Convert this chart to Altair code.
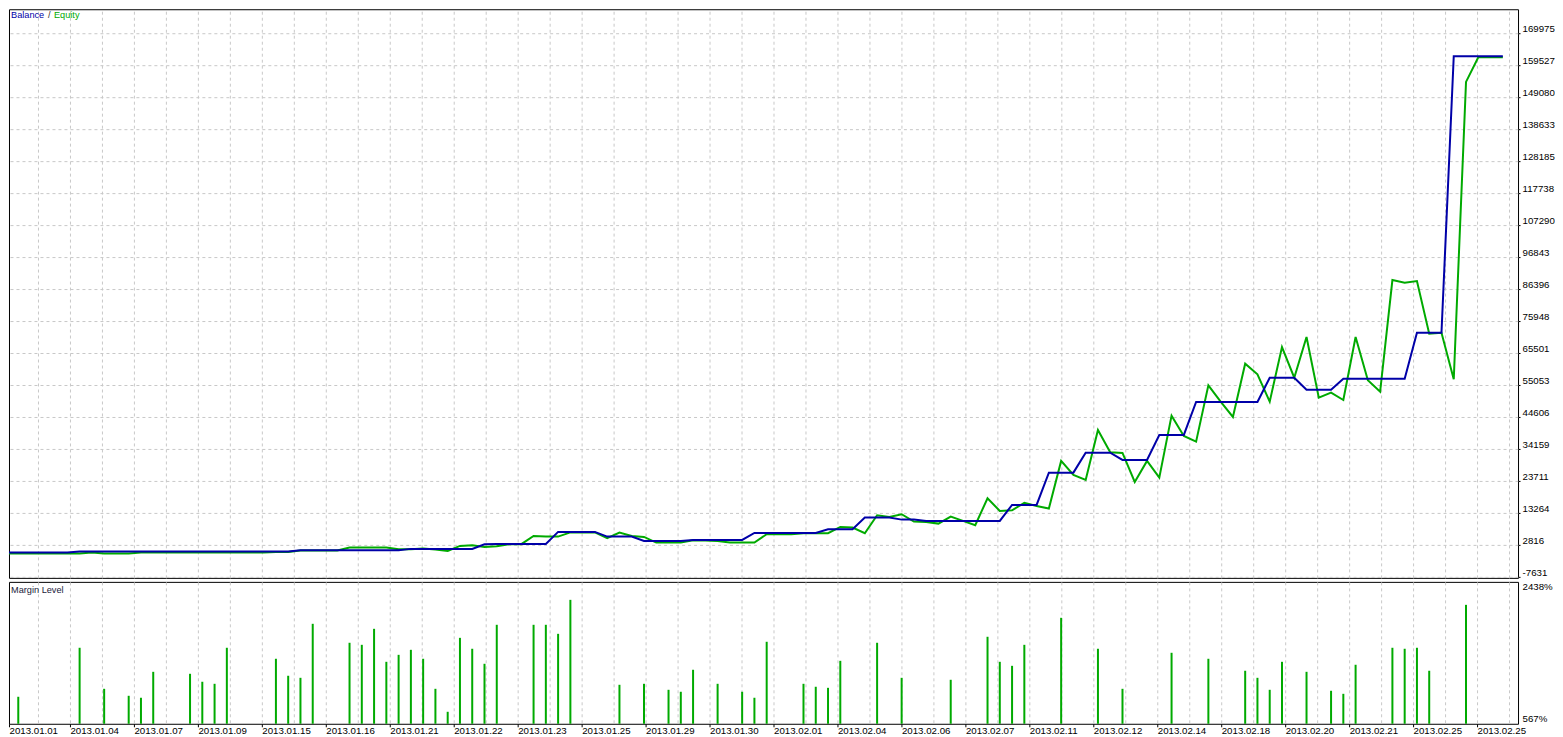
import json
import altair as alt
import pandas as pd

# ---------------- data ----------------
deal = list(range(123))

balance = (
    [400] * 6 + [730] * 18 + [1180] * 9 + [1610] * 6 + [3140] + [3240] * 5 +
    [7160] * 4 + [5620] * 3 + [4220] * 4 + [4550] * 5 + [6830] * 6 + [8040] * 3 +
    [11830] * 3 + [11170] * 2 + [10750] * 7 + [15970] * 3 + [26520] * 3 +
    [33050] * 3 + [30670] * 3 + [38830] * 3 + [49600] * 6 + [57530] * 3 +
    [53620] * 3 + [57210] * 6 + [72230] * 3 + [162560] * 5
)

equity = (
    [80] * 7 + [400] + [80] * 3 + [400] * 11 + [630] * 2 + [1050] * 4 +
    [2030] * 4 + [1510] * 2 +
    [1710, 1380, 960, 2590, 2820, 2260, 2490, 3140, 3140, 5850, 5690, 5620,
     7000, 7000, 7000, 5100, 6930, 5850, 5530, 3670, 3670, 3670, 4450, 4380,
     4220, 3670, 3670, 3670, 6410, 6410, 6410, 6730, 6730, 6730, 8790, 8560,
     6730, 12610, 12060, 12940, 10520, 10420, 9870, 12150, 10750, 9350, 18160,
     14010, 14230, 16630, 15650, 14770, 30340, 25770, 24140, 40460, 33180,
     32950, 23480, 30340, 24890, 45130, 38500, 36640, 55050, 49700, 44700,
     62110, 58640, 49700, 67560, 57530, 70820, 51000, 52640, 50250, 70820,
     56690, 52960, 89430, 88550, 89110, 71900, 72230, 57010, 154170,
     162240, 162240, 162240]
)

margin_deal = [1, 6, 8, 10, 11, 12, 15, 16, 17, 18, 22, 23, 24, 25, 28, 29, 30,
               31, 32, 33, 34, 35, 36, 37, 38, 39, 40, 43, 44, 45, 46, 50, 52,
               54, 55, 56, 58, 60, 61, 62, 65, 66, 67, 68, 71, 73, 77, 80, 81,
               82, 83, 86, 89, 91, 95, 98, 101, 102, 103, 104, 106, 108, 109,
               110, 113, 114, 115, 116, 119]
margin_level = [923, 1569, 1028, 936, 910, 1252, 1226, 1121, 1094, 1569, 1424,
                1200, 1173, 1885, 1635, 1608, 1819, 1384, 1476, 1542, 1424,
                1028, 725, 1700, 1556, 1358, 1872, 1872, 1872, 1753, 2201,
                1081, 1094, 1015, 989, 1279, 1094, 989, 910, 1648, 1094, 1055,
                1041, 1397, 1635, 1173, 1147, 1714, 1384, 1331, 1608, 1964,
                1556, 1028, 1503, 1424, 1266, 1173, 1015, 1384, 1252, 1002,
                962, 1345, 1569, 1556, 1569, 1266, 2135]

y_ticks = [-7631, 2816, 13264, 23711, 34159, 44606, 55053, 65501, 75948, 86396,
           96843, 107290, 117738, 128185, 138633, 149080, 159527, 169975]
margin_ticks = [567, 2438]
date_labels = ["2013.01.01", "2013.01.04", "2013.01.07", "2013.01.09",
               "2013.01.15", "2013.01.16", "2013.01.21", "2013.01.22",
               "2013.01.23", "2013.01.25", "2013.01.29", "2013.01.30",
               "2013.02.01", "2013.02.04", "2013.02.06", "2013.02.07",
               "2013.02.11", "2013.02.12", "2013.02.14", "2013.02.18",
               "2013.02.20", "2013.02.21", "2013.02.25", "2013.02.25"]

# ---------------- layout / style ----------------
BLUE = "#0000A8"
GREEN = "#00AA00"
FONT = "Liberation Sans"
FS = 9.7
PX_PER_DEAL = 12.277
W, H_TOP, H_BOT = 1510, 569, 142
X_MIN, X_MAX = 3 / PX_PER_DEAL, 1513 / PX_PER_DEAL
Y_TOP_DOMAIN = [-7860, 177908]
Y_BOT_DOMAIN = [567, 2438]

grid_vals = [32 * k / PX_PER_DEAL for k in range(1, 48)]
label_vals = [max(64 * k / PX_PER_DEAL, X_MIN) for k in range(len(date_labels))]
label_expr = f"{json.dumps(date_labels)}[round(datum.value * {PX_PER_DEAL} / 64)]"

df_line = pd.DataFrame({"deal": deal, "balance": balance, "equity": equity})
df_margin = pd.DataFrame({"deal": margin_deal, "level": margin_level})

xscale = alt.Scale(domain=[X_MIN, X_MAX], nice=False, zero=False, padding=0)
grid_axis = alt.Axis(values=grid_vals, labels=False, ticks=False, domain=False,
                     grid=True, title=None, orient="top")
label_axis = alt.Axis(values=label_vals, labelExpr=label_expr, orient="bottom",
                      grid=False, domain=False, ticks=True, tickSize=3,
                      labelAlign="left", labelBaseline="top", labelPadding=-1,
                      labelOverlap=False, labelFlush=False, title=None)

ytop_scale = alt.Scale(domain=Y_TOP_DOMAIN, nice=False, zero=False, padding=0)
ytop_axis = alt.Axis(orient="right", values=y_ticks, grid=True,
                     labelExpr="'' + datum.value", tickSize=2, labelPadding=2,
                     labelBaseline="bottom", labelAlign="left", domain=False,
                     labelOverlap=False, title=None)

ybot_scale = alt.Scale(domain=Y_BOT_DOMAIN, nice=False, zero=False, padding=0)
ybot_axis = alt.Axis(orient="right", values=margin_ticks, grid=False,
                     labelExpr="datum.value + '%'", ticks=False, labelPadding=4,
                     labelFlush=True, labelAlign="left", domain=False,
                     labelOverlap=False, title=None)


def caption(txt, x, y, color):
    return alt.Chart(pd.DataFrame({"t": [txt]})).mark_text(
        text=txt, align="left", baseline="middle", font=FONT, fontSize=9.2,
        color=color
    ).encode(x=alt.value(x), y=alt.value(y))


base = alt.Chart(df_line)
eq_line = base.mark_line(color=GREEN, strokeWidth=2, clip=True).encode(
    x=alt.X("deal:Q", scale=xscale, axis=grid_axis),
    y=alt.Y("equity:Q", scale=ytop_scale, axis=ytop_axis),
)
bal_line = base.mark_line(color=BLUE, strokeWidth=2, clip=True).encode(
    x=alt.X("deal:Q", scale=xscale, axis=grid_axis),
    y=alt.Y("balance:Q", scale=ytop_scale, axis=ytop_axis),
)

top = alt.layer(
    eq_line, bal_line,
    caption("Balance", 2, 6, BLUE),
    caption("/", 39, 6, "#333333"),
    caption("Equity", 45, 6, GREEN),
).properties(width=W, height=H_TOP)

bars = alt.Chart(df_margin).mark_bar(color=GREEN, width=2).encode(
    x=alt.X("deal:Q", scale=xscale, axis=label_axis),
    y=alt.Y("level:Q", scale=ybot_scale, axis=ybot_axis),
    y2=alt.datum(567),
)
grid_layer = alt.Chart(df_margin).mark_rule(opacity=0).encode(
    x=alt.X("deal:Q", scale=xscale, axis=grid_axis),
)

bottom = alt.layer(
    grid_layer, bars, caption("Margin Level", 2, 8, "#1A1A3A")
).resolve_scale(x="independent").properties(width=W, height=H_BOT)

chart = alt.vconcat(top, bottom, spacing=2).properties(
    padding={"left": 0, "top": 0, "right": 0, "bottom": 0}
).configure_view(
    stroke="black", strokeWidth=1
).configure_axis(
    labelFont=FONT, labelFontSize=FS, labelColor="#000000",
    gridColor="#C8C8C8", gridDash=[3, 3], gridWidth=1,
    tickColor="#000000", tickWidth=1,
)

chart.save("out.html", embed_options={"renderer": "svg", "actions": False})
